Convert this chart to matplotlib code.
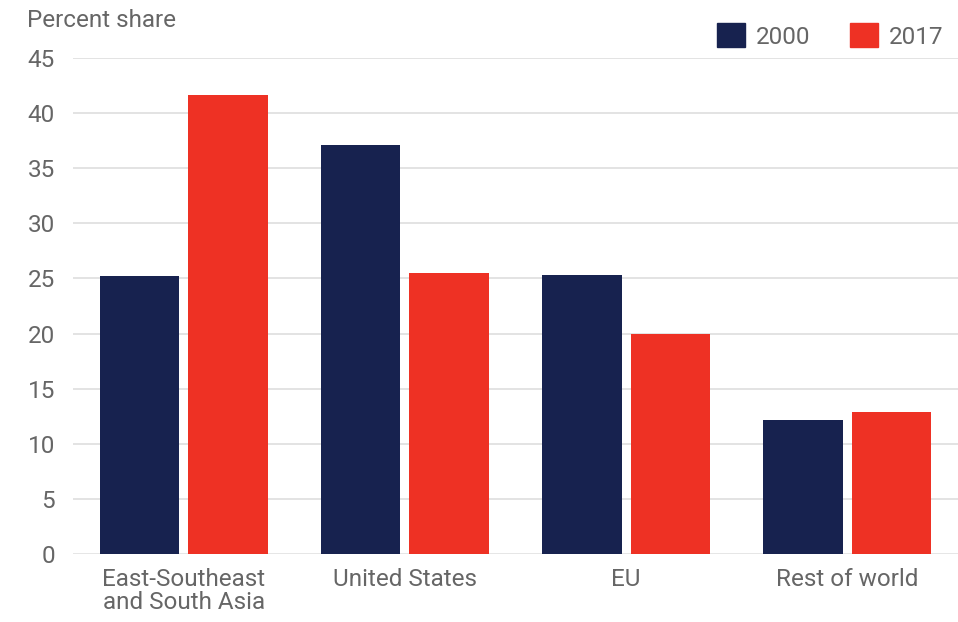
import numpy as np
import matplotlib
matplotlib.use("Agg")
import matplotlib.pyplot as plt
import matplotlib.patches as mpatches

plt.rcParams["font.family"] = ["Roboto", "DejaVu Sans"]

regions = ["East-Southeast\nand South Asia", "United States", "EU", "Rest of world"]
share_2000 = [25.2, 37.1, 25.3, 12.2]
share_2017 = [41.6, 25.5, 20.0, 12.9]
years = ["2000", "2017"]
yticks = [0, 5, 10, 15, 20, 25, 30, 35, 40, 45]

NAVY = "#17224f"
RED = "#ee3124"
GREY_TXT = "#666666"
GRID = "#e3e3e3"
FS = 17.5

fig = plt.figure(figsize=(9.58, 6.22), dpi=100)
ax = fig.add_axes([73 / 958, 68 / 622, 1 - 73 / 958, (554 - 58) / 622])

x = np.arange(len(regions))
w = 0.36
ax.bar(x - 0.2, share_2000, width=w, color=NAVY, zorder=3)
ax.bar(x + 0.2, share_2017, width=w, color=RED, zorder=3)

ax.set_xlim(-0.5, 3.5)
ax.set_ylim(0, 45)
ax.set_yticks(yticks)
ax.set_xticks(x)
ax.set_xticklabels(regions, linespacing=1.0)

for y in yticks:
    ax.axhline(y, color=GRID, lw=1.4 if y else 2.0, zorder=1)

for s in ax.spines.values():
    s.set_visible(False)
ax.tick_params(axis="both", length=0, labelsize=FS, colors=GREY_TXT)
ax.tick_params(axis="y", pad=13)
ax.tick_params(axis="x", pad=10)

fig.text(27 / 958, 1 - 27 / 622, "Percent share", fontsize=FS, color=GREY_TXT,
         ha="left", va="baseline")

handles = [mpatches.Patch(color=NAVY, label=years[0]),
           mpatches.Patch(color=RED, label=years[1])]
fig.legend(handles=handles, loc="center right", bbox_to_anchor=(943 / 958, 1 - 36 / 622),
           ncol=2, frameon=False, fontsize=FS, labelcolor=GREY_TXT,
           handlelength=1.15, handleheight=1.15, handletextpad=0.45,
           columnspacing=1.6, borderaxespad=0, borderpad=0)

fig.savefig("out.png", dpi=100)
